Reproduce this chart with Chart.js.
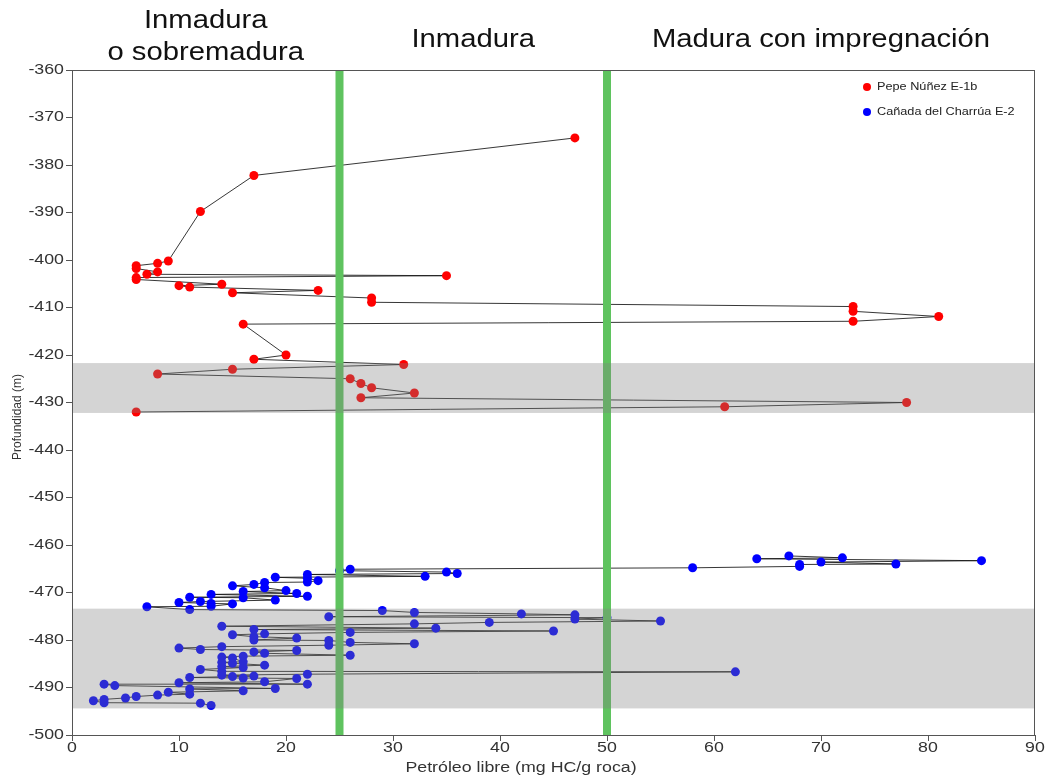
<!DOCTYPE html>
<html>
<head>
<meta charset="utf-8">
<script src="https://cdn.jsdelivr.net/npm/chart.js@4/dist/chart.umd.min.js"></script>
<style>
  html, body { margin: 0; padding: 0; background: #ffffff; }
  #wrap { width: 1052px; height: 780px; }
</style>
</head>
<body>
<div id="wrap"><canvas id="chart" width="1052" height="780"></canvas></div>
<script>
// Series names
const seriesNames = ['Pepe Núñez E-1b', 'Cañada del Charrúa E-2'];

// Pepe Núñez E-1b: free oil (mg HC/g rock) and depth (m), ordered by depth
const pepeOil = [47, 17, 12, 9, 8, 6, 6, 8, 7, 35, 6, 6, 14, 10, 11, 23, 15, 28, 28, 73, 73, 81, 73, 16,
  20, 17, 31, 15, 8, 26, 27, 28, 32, 27, 78, 61, 6];
const pepeDepth = [-374.3, -382.2, -389.8, -400.2, -400.7, -401.2, -401.8, -402.5, -403.0, -403.3, -403.7, -404.1,
  -405.1, -405.4, -405.7, -406.4, -406.9, -408.0, -408.9, -409.8, -410.8, -411.9, -412.9, -413.5,
  -420.0, -420.9, -422.0, -423.0, -424.0, -425.0, -426.0, -426.9, -428.0, -429.0, -430.0, -430.9, -432.0];

// Cañada del Charrúa E-2: free oil and depth, ordered by depth
const charruaOil = [67, 72, 64, 85, 70, 77, 68, 68, 58, 26, 25, 35, 36, 22, 33, 19, 22, 23, 22, 18,
  17, 15, 18, 20, 16, 21, 13, 22, 11, 16, 19, 12, 10, 13, 15, 13, 7, 11,
  29, 32, 42, 47, 24, 50, 47, 55, 39, 32, 14, 34, 17, 45, 26, 18, 15, 17, 21, 17, 24, 26, 32, 24,
  14, 10, 12, 21, 17, 18, 26, 16, 14, 15, 16, 14, 15, 18, 14, 16, 12, 14, 62, 22, 14, 17, 15, 11,
  16, 21, 18, 10, 22, 3, 4, 19, 11, 16, 9, 11, 8, 6, 5, 3, 2, 3, 12, 13];
const charruaDepth = [-462.3, -462.7, -462.9, -463.3, -463.6, -464.0, -464.1, -464.5, -464.8, -465.1, -465.4,
  -465.7, -466.0, -466.2, -466.6, -466.8, -467.0, -467.5, -467.8, -467.9,
  -468.3, -468.6, -469.0, -469.6, -469.8, -470.2, -470.4, -470.8, -471.0, -471.1, -471.6, -471.9, -472.1,
  -472.3, -472.4, -472.9, -473.0, -473.6,
  -473.8, -474.2, -474.5, -474.7, -475.1, -475.3, -475.6, -476.0, -476.3, -476.6, -477.1, -477.5, -477.8,
  -478.1, -478.4, -478.7, -478.9, -479.3, -479.6, -480.0, -480.1, -480.5, -480.8, -481.1,
  -481.4, -481.7, -482.0, -482.2, -482.5, -482.8, -483.2, -483.4, -483.6, -483.8, -484.6, -484.7, -484.9,
  -485.3, -485.6, -485.8, -486.2, -486.6, -486.7, -487.2, -487.4, -487.6, -487.7, -487.9,
  -488.0, -488.1, -488.8, -489.0, -489.3, -489.3, -489.6, -490.2, -490.3, -490.7, -491.0, -491.4, -491.6,
  -491.9, -492.2, -492.5, -492.8, -493.2, -493.3, -493.8];

// Maturity zones: boundaries on the oil axis and zone headings
const zoneBounds = [0, 25, 50, 90];
const zoneTitles = [['Inmadura', 'o sobremadura'], ['Inmadura'], ['Madura con impregnación']];

// Shaded depth intervals
const bandTops = [-421.7, -473.4];
const bandBases = [-432.2, -494.4];

// Axis ranges and titles
const xMin = 0, xMax = 90, xStep = 10;
const yMin = -500, yMax = -360, yStep = 10;
const xTitle = 'Petróleo libre (mg HC/g roca)';
const yTitle = 'Profundidad (m)';

const FONT = '"Liberation Sans", Arial, sans-serif';

// Text drawn slightly widened, like the rest of the figure's lettering
function wideText(ctx, text, x, y, size, align, color, stretch, rotate) {
  ctx.save();
  ctx.translate(x, y);
  if (rotate) ctx.rotate(rotate);
  ctx.scale(rotate ? 1 : stretch, rotate ? stretch : 1);
  ctx.font = size + 'px ' + FONT;
  ctx.fillStyle = color;
  ctx.textAlign = align;
  ctx.textBaseline = 'middle';
  ctx.fillText(text, 0, 0);
  ctx.restore();
}

const overlayPlugin = {
  id: 'overlay',
  afterDatasetsDraw(chart) {
    const ctx = chart.ctx;
    const xs = chart.scales.x, ys = chart.scales.y;
    const area = chart.chartArea;
    ctx.save();
    // zone boundaries
    ctx.strokeStyle = '#5fc35f';
    ctx.lineWidth = 8;
    for (let i = 1; i < zoneBounds.length - 1; i++) {
      const px = xs.getPixelForValue(zoneBounds[i]);
      ctx.beginPath();
      ctx.moveTo(px, area.top);
      ctx.lineTo(px, area.bottom);
      ctx.stroke();
    }
    // shaded intervals
    ctx.fillStyle = 'rgba(128,128,128,0.34)';
    for (let i = 0; i < bandTops.length; i++) {
      const t = ys.getPixelForValue(bandTops[i]);
      const b = ys.getPixelForValue(bandBases[i]);
      ctx.fillRect(area.left, t, area.right - area.left, b - t);
    }
    // frame
    ctx.strokeStyle = '#555';
    ctx.lineWidth = 1;
    ctx.strokeRect(area.left + 0.5, area.top + 0.5, area.right - area.left - 1, area.bottom - area.top);
    ctx.restore();
  },
  afterDraw(chart) {
    const ctx = chart.ctx;
    const xs = chart.scales.x, ys = chart.scales.y;
    const area = chart.chartArea;
    // tick labels from the scales' own ticks
    ys.ticks.forEach(t => {
      wideText(ctx, String(t.value), area.left - 8, ys.getPixelForValue(t.value), 14, 'right', '#333', 1.27);
    });
    xs.ticks.forEach(t => {
      wideText(ctx, String(t.value), xs.getPixelForValue(t.value), area.bottom + 13, 14, 'center', '#333', 1.27);
    });
    // axis titles
    wideText(ctx, xTitle, 521, 768, 14, 'center', '#333', 1.27);
    wideText(ctx, yTitle, 18, 417, 12, 'center', '#333', 1.0, -Math.PI / 2);
    // zone headings
    zoneTitles.forEach((lines, i) => {
      const cx = xs.getPixelForValue((zoneBounds[i] + zoneBounds[i + 1]) / 2);
      if (lines.length === 2) {
        wideText(ctx, lines[0], cx, 21, 25, 'center', '#111', 1.17);
        wideText(ctx, lines[1], cx, 53, 25, 'center', '#111', 1.17);
      } else {
        wideText(ctx, lines[0], cx, 40, 25, 'center', '#111', 1.17);
      }
    });
    // legend
    chart.data.datasets.forEach((ds, i) => {
      const y = area.top + 17 + i * 25;
      const x = area.right - 168;
      ctx.beginPath();
      ctx.arc(x, y, 4, 0, Math.PI * 2);
      ctx.fillStyle = ds.pointBackgroundColor;
      ctx.fill();
      wideText(ctx, ds.label, x + 10, y, 10, 'left', '#222', 1.27);
    });
  }
};

new Chart(document.getElementById('chart'), {
  type: 'scatter',
  data: {
    datasets: [
      {
        label: seriesNames[0],
        data: pepeOil.map((v, i) => ({ x: v, y: pepeDepth[i] })),
        showLine: true,
        borderColor: 'rgba(20,20,20,0.85)',
        borderWidth: 1,
        pointBackgroundColor: '#ff0000',
        pointBorderColor: '#ff0000',
        pointBorderWidth: 0,
        pointRadius: 4.5
      },
      {
        label: seriesNames[1],
        data: charruaOil.map((v, i) => ({ x: v, y: charruaDepth[i] })),
        showLine: true,
        borderColor: 'rgba(20,20,20,0.85)',
        borderWidth: 1,
        pointBackgroundColor: '#0000ff',
        pointBorderColor: '#0000ff',
        pointBorderWidth: 0,
        pointRadius: 4.5
      }
    ]
  },
  options: {
    responsive: false,
    animation: false,
    devicePixelRatio: 1,
    layout: { padding: { top: 70, right: 17, left: 0, bottom: 0 } },
    plugins: { legend: { display: false }, tooltip: { enabled: false } },
    scales: {
      x: {
        type: 'linear', min: xMin, max: xMax,
        ticks: { stepSize: xStep, display: false },
        grid: { drawOnChartArea: false, drawTicks: true, tickLength: 6, color: '#555' },
        border: { color: '#555' },
        afterFit(scale) { scale.height = 45; }
      },
      y: {
        type: 'linear', min: yMin, max: yMax,
        ticks: { stepSize: yStep, display: false },
        grid: { drawOnChartArea: false, drawTicks: true, tickLength: 6, color: '#555' },
        border: { color: '#555' },
        afterFit(scale) { scale.width = 72; }
      }
    }
  },
  plugins: [overlayPlugin]
});
</script>
</body>
</html>
